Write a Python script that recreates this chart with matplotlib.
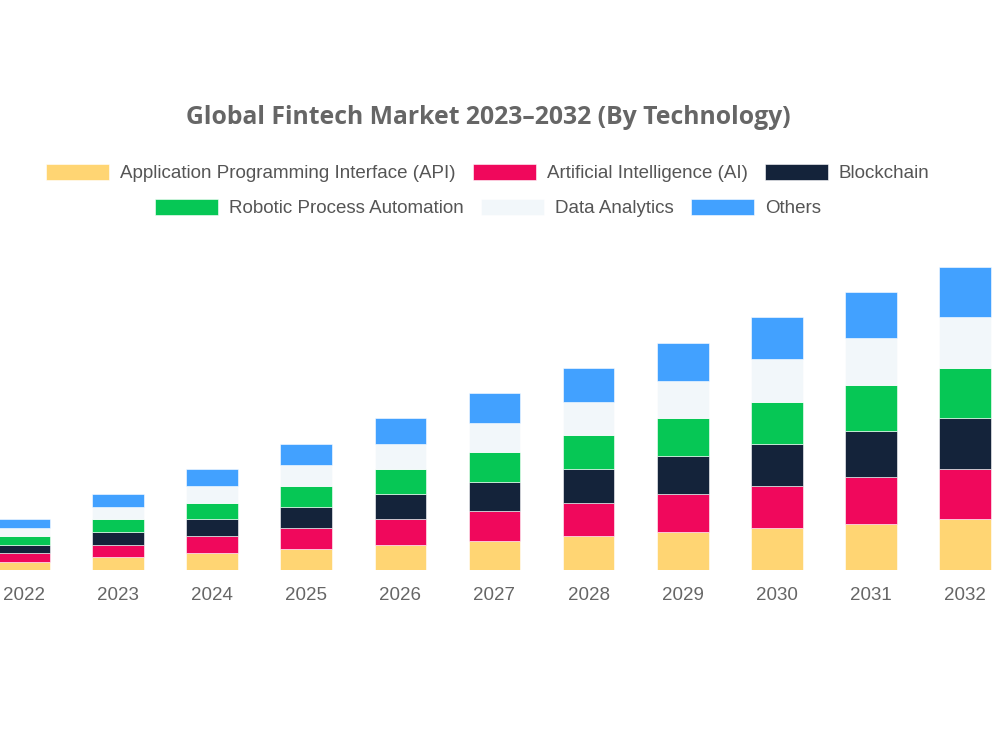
import matplotlib
matplotlib.use('Agg')
import matplotlib.pyplot as plt
import numpy as np

# ---- data ----
years = ['2022', '2023', '2024', '2025', '2026', '2027', '2028', '2029', '2030', '2031', '2032']
api = [2, 3, 4, 5, 6, 7, 8, 9, 10, 11, 12]
ai = [2, 3, 4, 5, 6, 7, 8, 9, 10, 11, 12]
blockchain = [2, 3, 4, 5, 6, 7, 8, 9, 10, 11, 12]
rpa = [2, 3, 4, 5, 6, 7, 8, 9, 10, 11, 12]
data_analytics = [2, 3, 4, 5, 6, 7, 8, 9, 10, 11, 12]
others = [2, 3, 4, 5, 6, 7, 8, 9, 10, 11, 12]

series = [
    ('Application Programming Interface (API)', api, '#FFD573'),
    ('Artificial Intelligence (AI)', ai, '#F0085C'),
    ('Blockchain', blockchain, '#14233A'),
    ('Robotic Process Automation', rpa, '#06C755'),
    ('Data Analytics', data_analytics, '#F2F7FA'),
    ('Others', others, '#42A1FF'),
]

plt.rcParams['font.family'] = ['Liberation Sans', 'DejaVu Sans']

fig = plt.figure(figsize=(10, 7.5), dpi=100)
ax = fig.add_axes([0, 180 / 750, 1, 320 / 750])

x = np.arange(len(years))
bottom = np.zeros(len(years))
handles = []
for label, vals, color in series:
    b = ax.bar(x, vals, 0.55, bottom=bottom, color=color, label=label,
               edgecolor='white', linewidth=0.4)
    handles.append(b)
    bottom += np.array(vals)

ax.set_xlim(-24 / 94.1, (1000 - 24) / 94.1)
ax.set_ylim(0, 76)
ax.set_xticks(x)
ax.set_xticklabels(years, fontsize=13.5, color='#666666')
ax.tick_params(axis='x', length=0, pad=12)
ax.set_yticks([])
for s in ax.spines.values():
    s.set_visible(False)

fig.text(0.488, 1 - 117 / 750, 'Global Fintech Market 2023\u20132032 (By Technology)',
         ha='center', va='center', fontsize=17.8, fontweight='bold',
         color='#666666', family=['Open Sans', 'DejaVu Sans'])

# legend: two centred rows like the original
fs = 13.5
px = fs * 100 / 72
leg_kw = dict(ncol=3, frameon=False, fontsize=fs, handlelength=63 / px, handleheight=17 / px,
              handletextpad=11 / px, columnspacing=17 / px, labelcolor='#555555',
              borderaxespad=0, borderpad=0)
leg1 = fig.legend(handles[:3], [s[0] for s in series[:3]], loc='center',
                  bbox_to_anchor=(0.488, 1 - 173 / 750), **leg_kw)
leg2 = fig.legend(handles[3:], [s[0] for s in series[3:]], loc='center',
                  bbox_to_anchor=(0.488, 1 - 208 / 750), **leg_kw)

plt.savefig('out.png', dpi=100)
plt.close()
